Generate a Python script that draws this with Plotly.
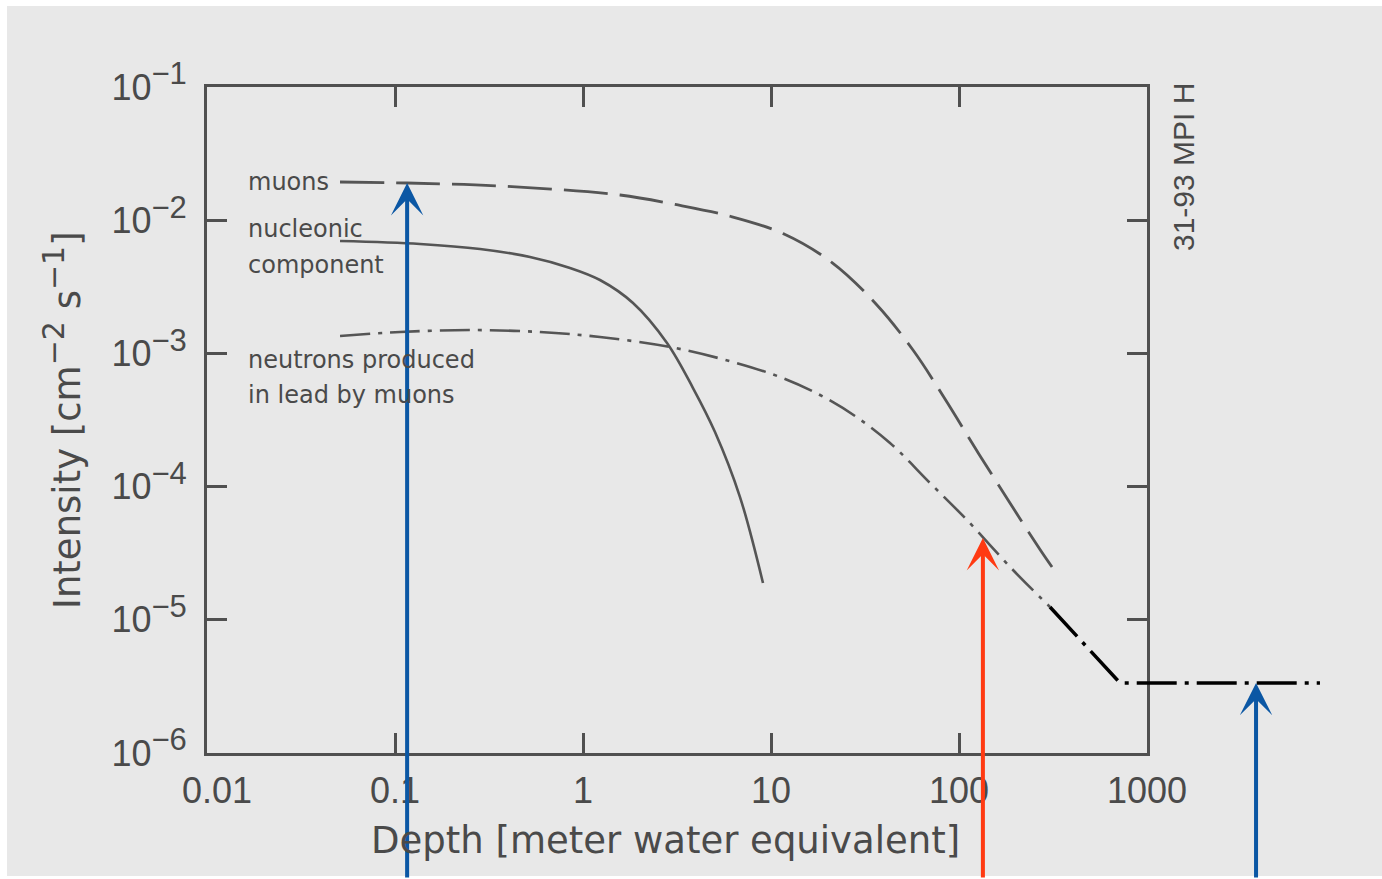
import numpy as np
import plotly.graph_objects as go

W, H = 1382, 879

# ---------------- data ----------------
x_ticks = [0.01, 0.1, 1, 10, 100, 1000]
x_tick_labels = ["&nbsp;&nbsp;0.01", "0.1", "1", "10", "100", "1000"]
y_ticks = [1e-6, 1e-5, 1e-4, 1e-3, 1e-2, 1e-1]
y_exponents = [-6, -5, -4, -3, -2, -1]

muon_depth = [0.0510, 0.1158, 0.3619, 1.573, 3.086, 6.128, 11.73, 21.11, 36.19, 56.92, 84.25,
              124.7, 184.5, 269.7, 312.5]
muon_int = [0.01936, 0.01902, 0.01806, 0.01546, 0.01312, 0.01066, 0.00788, 0.00481, 0.00235,
            0.00106, 4.546e-4, 1.851e-4, 7.73e-5, 3.37e-5, 2.49e-5]

nucl_depth = [0.0510, 0.1358, 0.2832, 0.5224, 0.8530, 1.231, 1.845, 2.798, 3.847, 5.036, 6.841, 9.066]
nucl_int = [0.00698, 0.00663, 0.00608, 0.00529, 0.00438, 0.003556, 0.00239, 0.001197, 5.497e-4,
            2.57e-4, 8.35e-5, 1.89e-5]

neut_depth = [0.0510, 0.1063, 0.2506, 0.5905, 1.231, 2.903, 6.280, 11.17, 18.23, 27.98, 42.95,
              70.11, 110.3, 193.8, 304.8]
neut_int = [1.351e-3, 1.447e-3, 1.498e-3, 1.447e-3, 1.327e-3, 1.117e-3, 8.617e-4, 6.649e-4,
            4.872e-4, 3.388e-4, 2.126e-4, 1.064e-4, 5.61e-5, 2.366e-5, 1.248e-5]

ext_depth = [304.8, 718, 8318]
ext_int = [1.248e-5, 3.36e-6, 3.36e-6]

arrow_depth = [0.116, 134, 3802]
arrow_int = [0.0190, 4.11e-5, 3.36e-6]
arrow_colors = ["#0b57a4", "#ff3a12", "#0b57a4"]

# ---------------- layout geometry ----------------
x_dom = [207 / W, 1147 / W]
y_dom = [(H - 753) / H, (H - 87) / H]
x_rng = [-2, 3]
y_rng = [-6, -1]


def full_range(r, d):
    span = (r[1] - r[0]) / (d[1] - d[0])
    return [r[0] - d[0] * span, r[1] + (1 - d[1]) * span]


x2_rng = full_range(x_rng, x_dom)
y2_rng = full_range(y_rng, y_dom)

INK = "#4a4a4a"
CURVE = "#555555"
BG = "#e8e8e8"

fig = go.Figure()

fig.add_trace(go.Scatter(x=muon_depth, y=muon_int, mode="lines", line_shape="spline",
                         line=dict(color=CURVE, width=2.8, dash="44px,12px", smoothing=1.0),
                         xaxis="x", yaxis="y", showlegend=False, hoverinfo="skip"))
fig.add_trace(go.Scatter(x=nucl_depth, y=nucl_int, mode="lines", line_shape="spline",
                         line=dict(color=CURVE, width=2.6, smoothing=1.0),
                         xaxis="x", yaxis="y", showlegend=False, hoverinfo="skip"))
fig.add_trace(go.Scatter(x=neut_depth, y=neut_int, mode="lines", line_shape="spline",
                         line=dict(color=CURVE, width=2.6, dash="30px,8px,4px,8px", smoothing=1.0),
                         xaxis="x", yaxis="y", showlegend=False, hoverinfo="skip"))
fig.add_trace(go.Scatter(x=ext_depth, y=ext_int, mode="lines",
                         line=dict(color="#000000", width=3.5, dash="40px,8px,4px,8px"),
                         xaxis="x2", yaxis="y2", showlegend=False, hoverinfo="skip"))

annotations = []
for xv, yv, c in zip(arrow_depth, arrow_int, arrow_colors):
    annotations.append(dict(
        x=np.log10(xv), y=np.log10(yv), xref="x2", yref="y2",
        ax=np.log10(xv), ay=y2_rng[0], axref="x2", ayref="y2",
        text="", showarrow=True, arrowhead=3, arrowsize=1.35, arrowwidth=4,
        arrowcolor=c, standoff=0, startstandoff=0))

label_font = dict(family="DejaVu Sans", size=24, color=INK)
for txt, py in [("muons", 182), ("nucleonic", 229), ("component", 265),
                ("neutrons produced", 360), ("in lead by muons", 395)]:
    annotations.append(dict(x=246 / W, y=(H - py) / H, xref="paper", yref="paper",
                            text=txt, showarrow=False, xanchor="left", yanchor="middle",
                            font=label_font))

annotations.append(dict(x=665 / W, y=(H - 840) / H, xref="paper", yref="paper",
                        text="Depth [meter water equivalent]", showarrow=False,
                        xanchor="center", yanchor="middle",
                        font=dict(family="DejaVu Sans", size=37, color=INK)))
annotations.append(dict(x=62 / W, y=(H - 420) / H, xref="paper", yref="paper",
                        text="Intensity [cm<sup><span style='font-size:30px'>−2</span></sup> "
                             "s<sup><span style='font-size:30px'>−1</span></sup>]",
                        showarrow=False, textangle=-90, xanchor="center", yanchor="middle",
                        font=dict(family="DejaVu Sans", size=37, color=INK)))
annotations.append(dict(x=1183 / W, y=(H - 167) / H, xref="paper", yref="paper",
                        text="31-93 MPI H", showarrow=False, textangle=-90,
                        xanchor="center", yanchor="middle",
                        font=dict(family="Liberation Sans", size=30, color=INK)))

y_tick_text = ["10<sup><span style='font-size:31px'>−%d</span></sup>" % (-e) for e in y_exponents]

axis_common = dict(type="log", showgrid=False, zeroline=False, showline=True, mirror="ticks",
                   linecolor="#505050", linewidth=3, ticks="inside", ticklen=20, tickwidth=2.5,
                   tickcolor="#505050", automargin=False,
                   tickfont=dict(family="Liberation Sans", size=36, color=INK))

fig.update_layout(
    width=W, height=H,
    margin=dict(l=0, r=0, t=0, b=0, pad=0, autoexpand=False),
    paper_bgcolor="white",
    plot_bgcolor="rgba(0,0,0,0)",
    showlegend=False,
    xaxis=dict(axis_common, domain=x_dom, range=x_rng, anchor="y",
               tickvals=x_ticks, ticktext=x_tick_labels, ticklabelstandoff=4),
    yaxis=dict(axis_common, domain=y_dom, range=y_rng, anchor="x",
               tickvals=y_ticks, ticktext=y_tick_text, ticklabelstandoff=10),
    xaxis2=dict(type="log", domain=[0, 1], range=x2_rng, anchor="y2", visible=False,
                showgrid=False, zeroline=False, automargin=False),
    yaxis2=dict(type="log", domain=[0, 1], range=y2_rng, anchor="x2", visible=False,
                showgrid=False, zeroline=False, automargin=False),
    shapes=[dict(type="rect", xref="paper", yref="paper", x0=7 / W, x1=1.0,
                 y0=(H - 876) / H, y1=(H - 6) / H, fillcolor=BG, line=dict(width=0),
                 layer="below")],
    annotations=annotations,
)

fig.write_html("out.html")
